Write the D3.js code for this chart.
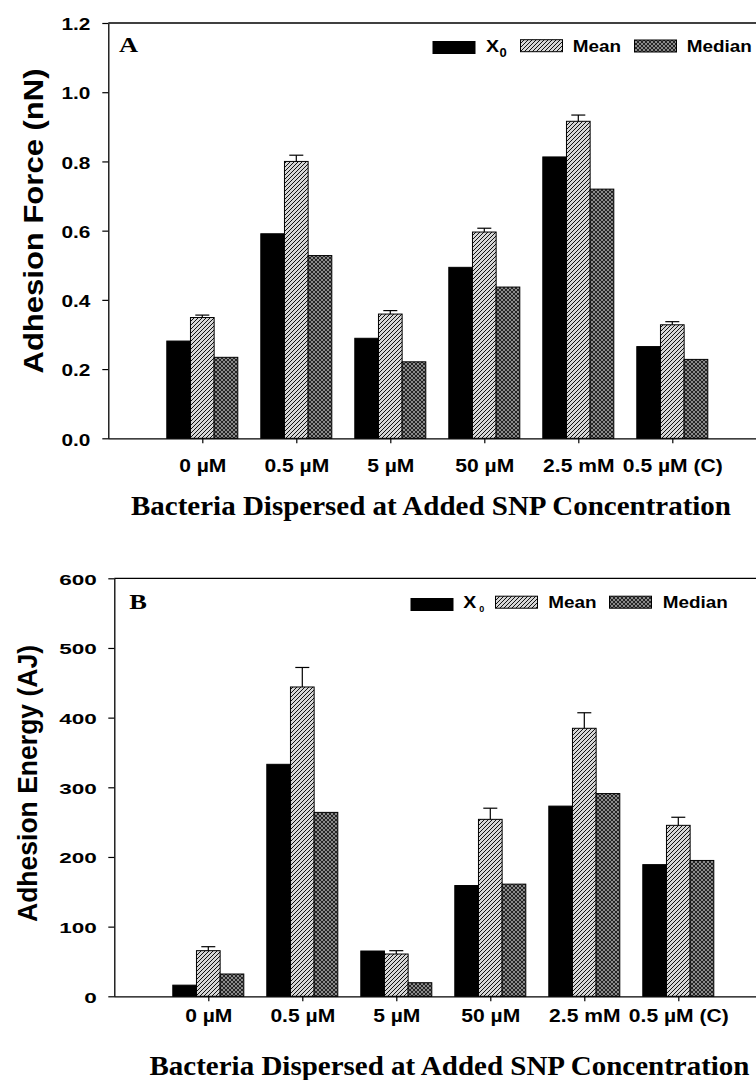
<!DOCTYPE html>
<html>
<head>
<meta charset="utf-8">
<script src="https://cdn.jsdelivr.net/npm/d3@7"></script>
<style>
  body { margin: 0; background: #fff; }
  svg { display: block; }
</style>
</head>
<body>
<div id="chart"></div>
<script>
// values
const categories = ["0 µM", "0.5 µM", "5 µM", "50 µM", "2.5 mM", "0.5 µM (C)"];
const seriesNames = ["X0", "Mean", "Median"];

const forceX0 = [0.281, 0.591, 0.289, 0.494, 0.813, 0.265];
const forceMean = [0.349, 0.800, 0.359, 0.596, 0.916, 0.328];
const forceMeanErr = [0.007, 0.018, 0.010, 0.011, 0.018, 0.009];
const forceMedian = [0.234, 0.528, 0.221, 0.437, 0.720, 0.228];
const forceTicks = [0, 0.2, 0.4, 0.6, 0.8, 1.0, 1.2];

const energyX0 = [16, 333, 65, 159, 273, 189];
const energyMean = [65.5, 444, 60.7, 254, 384.7, 245.4];
const energyMeanErr = [5.7, 28, 4.8, 16, 22.3, 11.6];
const energyMedian = [32, 264, 19.5, 161, 291, 195];
const energyTicks = [0, 100, 200, 300, 400, 500, 600];

const xTitle = "Bacteria Dispersed at Added SNP Concentration";

const width = 756, height = 1080;
const sans = "'Liberation Sans', Arial, sans-serif";
const serif = "'Liberation Serif', 'Times New Roman', serif";

const svg = d3.select("#chart").append("svg")
    .attr("width", width)
    .attr("height", height);

// patterns
const defs = svg.append("defs");
const hatch = defs.append("pattern")
    .attr("id", "hatch")
    .attr("patternUnits", "userSpaceOnUse")
    .attr("width", 4).attr("height", 4);
hatch.append("rect").attr("width", 4).attr("height", 4).attr("fill", "#d6d6d6");
hatch.append("path")
    .attr("d", "M-1,1 l2,-2 M0,4 l4,-4 M3,5 l2,-2")
    .attr("stroke", "#111").attr("stroke-width", 1);

const cross = defs.append("pattern")
    .attr("id", "cross")
    .attr("patternUnits", "userSpaceOnUse")
    .attr("width", 4).attr("height", 4);
cross.append("rect").attr("width", 4).attr("height", 4).attr("fill", "#8a8a8a");
cross.append("path")
    .attr("d", "M-1,1 l2,-2 M0,4 l4,-4 M3,5 l2,-2 M-1,3 l2,2 M0,0 l4,4 M3,-1 l2,2")
    .attr("stroke", "#1a1a1a").attr("stroke-width", 0.9);

const fills = {"X0": "#000", "Mean": "url(#hatch)", "Median": "url(#cross)"};

function stretch(sel, factor) {
    sel.each(function () {
        const w = this.getComputedTextLength();
        d3.select(this)
            .attr("textLength", w * factor)
            .attr("lengthAdjust", "spacingAndGlyphs");
    });
}

function drawPanel(cfg) {
    const {x0, y0, y1, yMax, ticks, fmt, values, err, letter} = cfg;

    const xscale = d3.scaleLinear().domain([0, 7]).range([x0, x0 + 94 * 7]);
    const yscale = d3.scaleLinear().domain([0, yMax]).range([y0, y1]);
    const inner = d3.scaleBand().domain(seriesNames).range([-35.5, 35.5]);

    const g = svg.append("g");

    // bars
    categories.forEach((cat, i) => {
        const cx = xscale(i + 1);
        seriesNames.forEach((s, k) => {
            const v = values[k][i];
            g.append("rect")
                .attr("x", cx + inner(s))
                .attr("y", yscale(v))
                .attr("width", inner.bandwidth())
                .attr("height", y0 - yscale(v))
                .attr("fill", fills[s])
                .attr("stroke", "#000")
                .attr("stroke-width", 1);
        });
        // error bar on Mean (upper only)
        const mx = cx + inner("Mean") + inner.bandwidth() / 2;
        const top = yscale(values[1][i] + err[i]);
        g.append("line")
            .attr("x1", mx).attr("x2", mx)
            .attr("y1", yscale(values[1][i])).attr("y2", top)
            .attr("stroke", "#000").attr("stroke-width", 1.2);
        g.append("line")
            .attr("x1", mx - 7).attr("x2", mx + 7)
            .attr("y1", top).attr("y2", top)
            .attr("stroke", "#000").attr("stroke-width", 1.2);
    });

    // y axis
    const yAxis = g.append("g")
        .attr("transform", `translate(${x0},0)`)
        .call(d3.axisLeft(yscale).tickValues(ticks).tickFormat(fmt)
            .tickSize(6).tickPadding(cfg.yPad).tickSizeOuter(0));
    yAxis.select(".domain").attr("stroke-width", 1.3);
    yAxis.selectAll(".tick line").attr("stroke-width", 1.2);
    yAxis.selectAll("text")
        .attr("font-family", sans)
        .attr("font-weight", "bold")
        .attr("font-size", cfg.yFont)
        .attr("dy", cfg.yDy)
        .attr("fill", "#000");
    stretch(yAxis.selectAll("text"), cfg.yStretch);

    // x axis
    const xAxis = g.append("g")
        .attr("transform", `translate(0,${y0})`)
        .call(d3.axisBottom(xscale).tickValues(d3.range(1, 7))
            .tickFormat(d => categories[d - 1])
            .tickSize(5).tickPadding(cfg.xPad).tickSizeOuter(0));
    xAxis.select(".domain").attr("d", `M${x0},0.5H${width + 10}`).attr("stroke-width", 1.3);
    xAxis.selectAll(".tick line").attr("stroke-width", 1.2);
    xAxis.selectAll("text")
        .attr("font-family", sans)
        .attr("font-weight", "bold")
        .attr("font-size", 18)
        .attr("fill", "#000");
    stretch(xAxis.selectAll("text"), 1.17);

    // top frame line
    g.append("line")
        .attr("x1", x0).attr("x2", width + 10)
        .attr("y1", y1).attr("y2", y1)
        .attr("stroke", "#000").attr("stroke-width", 1.3);

    // panel letter
    const lt = g.append("text")
        .attr("x", cfg.letterX).attr("y", cfg.letterY)
        .attr("font-family", serif).attr("font-weight", "bold")
        .attr("font-size", 22)
        .text(letter);
    stretch(lt, 1.2);

    // y title
    g.append("text")
        .attr("transform", `translate(${cfg.yTitleX},${cfg.yTitleY}) rotate(-90)`)
        .attr("text-anchor", "middle")
        .attr("font-family", sans).attr("font-weight", "bold")
        .attr("font-size", 28)
        .attr("textLength", cfg.yTitleLen)
        .attr("lengthAdjust", "spacingAndGlyphs")
        .text(cfg.yTitle);

    // x title
    g.append("text")
        .attr("x", cfg.xTitleX).attr("y", cfg.xTitleY)
        .attr("text-anchor", "middle")
        .attr("font-family", serif).attr("font-weight", "bold")
        .attr("font-size", 28)
        .attr("textLength", 600)
        .attr("lengthAdjust", "spacingAndGlyphs")
        .text(xTitle);

    drawLegend(g, cfg.legend);
}

function drawLegend(g, L) {
    const sw = [
        {s: "X0", x: L.rx[0], y: L.ry[0]},
        {s: "Mean", x: L.rx[1], y: L.ry[1]},
        {s: "Median", x: L.rx[2], y: L.ry[2]}
    ];
    sw.forEach(d => {
        g.append("rect")
            .attr("x", d.x).attr("y", d.y)
            .attr("width", 42).attr("height", 12)
            .attr("fill", fills[d.s])
            .attr("stroke", "#000").attr("stroke-width", 1);
    });
    const xt = g.append("text")
        .attr("x", L.tx[0]).attr("y", L.base)
        .attr("font-family", sans).attr("font-weight", "bold").attr("font-size", 16)
        .text("X");
    stretch(xt, 1.22);
    g.append("text")
        .attr("x", L.subX).attr("y", L.base + L.subDy)
        .attr("font-family", sans).attr("font-weight", "bold").attr("font-size", L.subSize)
        .text("0");
    ["Mean", "Median"].forEach((s, i) => {
        const t = g.append("text")
            .attr("x", L.tx[i + 1]).attr("y", L.base)
            .attr("font-family", sans).attr("font-weight", "bold").attr("font-size", 16)
            .text(s);
        stretch(t, 1.18);
    });
}

drawPanel({
    x0: 108.3, y0: 438.3, y1: 23, yMax: 1.2,
    ticks: forceTicks, fmt: d3.format(".1f"),
    values: [forceX0, forceMean, forceMedian], err: forceMeanErr,
    yPad: 12, yFont: 16, yDy: "0.42em", yStretch: 1.3,
    xPad: 16,
    letter: "A", letterX: 119, letterY: 52.3,
    yTitle: "Adhesion Force (nN)", yTitleX: 42.7, yTitleY: 221, yTitleLen: 305,
    xTitleX: 431, xTitleY: 515,
    legend: {rx: [433, 520.5, 634.5], ry: [41.5, 39.7, 40], tx: [486, 572.7, 686.7],
             base: 52.3, subX: 499.5, subDy: 4.3, subSize: 13}
});

drawPanel({
    x0: 114.3, y0: 996.3, y1: 578.3, yMax: 600,
    ticks: energyTicks, fmt: d3.format("d"),
    values: [energyX0, energyMean, energyMedian], err: energyMeanErr,
    yPad: 11.6, yFont: 15, yDy: "0.38em", yStretch: 1.5,
    xPad: 8,
    letter: "B", letterX: 129.3, letterY: 609,
    yTitle: "Adhesion Energy (AJ)", yTitleX: 36.5, yTitleY: 783.5, yTitleLen: 277,
    xTitleX: 449.5, xTitleY: 1075,
    legend: {rx: [411, 495.5, 609.5], ry: [598.5, 596.2, 596.2], tx: [463.3, 548.3, 662.7],
             base: 608.3, subX: 479.3, subDy: 3.5, subSize: 9}
});
</script>
</body>
</html>
